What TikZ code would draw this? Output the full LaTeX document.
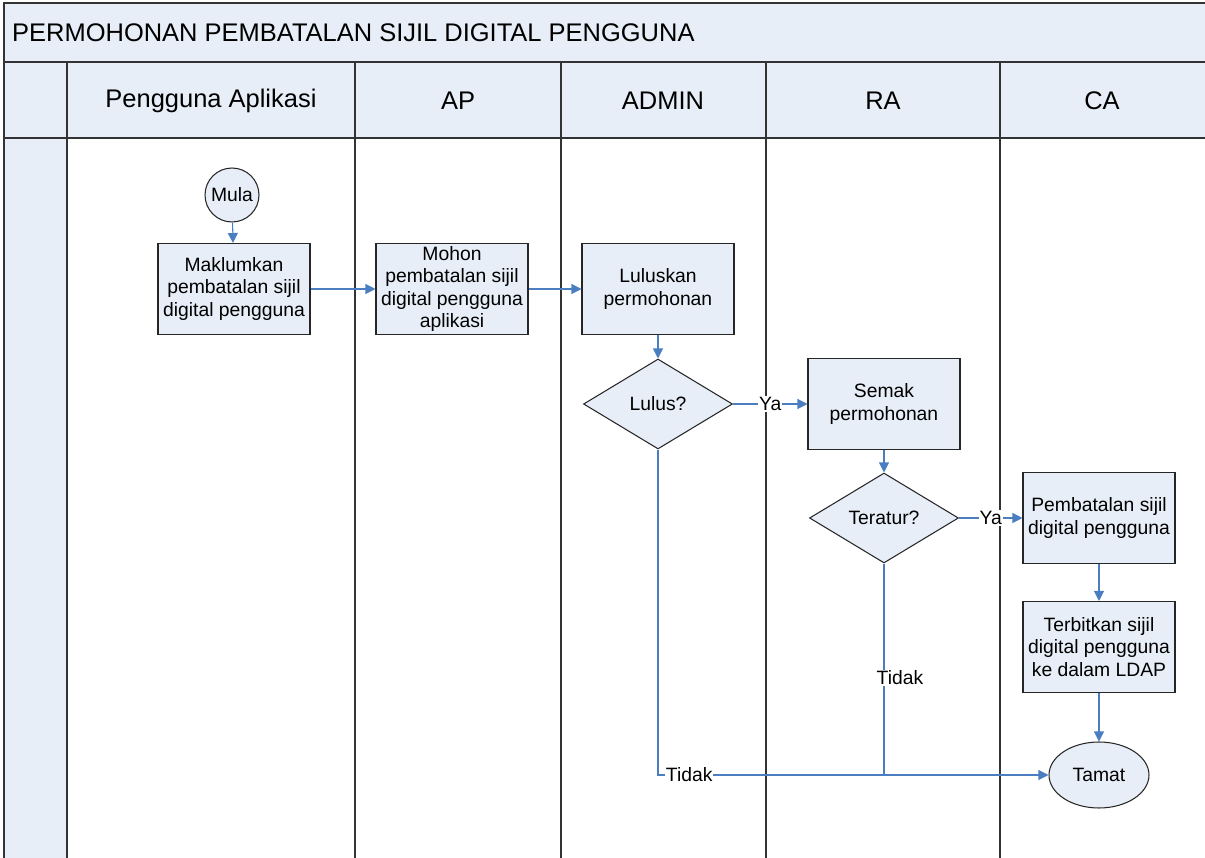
\documentclass[tikz,border=0pt]{standalone}
\usepackage{fontspec}
\setmainfont{Liberation Sans}
\usetikzlibrary{arrows.meta,shapes.geometric}
\definecolor{laneblue}{RGB}{232,238,247}
\definecolor{flowblue}{RGB}{74,126,193}
\tikzset{
  lane/.style={draw=black!80,line width=0.8pt},
  header/.style={font=\fontsize{14.5}{17}\selectfont},
  proses/.style={draw=black!85,fill=laneblue,line width=0.6pt,minimum width=3.04cm,minimum height=1.82cm,
    align=center,inner sep=1pt,font=\fontsize{11}{12.8}\selectfont},
  keputusan/.style={diamond,draw=black!85,fill=laneblue,line width=0.6pt,minimum width=2.98cm,minimum height=1.8cm,
    inner sep=0pt,font=\fontsize{11}{12.8}\selectfont},
  mula/.style={circle,draw=black!85,fill=laneblue,line width=0.6pt,minimum size=1.08cm,inner sep=0pt,
    font=\fontsize{11}{12.8}\selectfont},
  tamat/.style={ellipse,draw=black!85,fill=laneblue,line width=0.6pt,minimum width=2cm,minimum height=1.32cm,
    inner sep=0pt,font=\fontsize{11}{12.8}\selectfont},
  aliran/.style={draw=flowblue,line width=0.6pt,-{Triangle[length=0.2cm,width=0.2cm]}},
  label/.style={fill=white,inner sep=0.5pt,text=black,font=\fontsize{11}{12.8}\selectfont}
}
\begin{document}
\begin{tikzpicture}[x=0.02cm,y=-0.02cm]
\useasboundingbox (0,0) rectangle (1205,858);
\clip (0,0) rectangle (1205,858);
% tajuk dan lorong
\draw[lane,fill=laneblue] (4,3) rectangle (1215,62);
\draw[lane,fill=laneblue] (4,62) rectangle (1215,138);
\draw[lane,fill=laneblue] (4,138) rectangle (67,870);
\foreach \x in {67,355,561,766,1000} \draw[lane] (\x,62) -- (\x,870);
\node[header,anchor=west] (tajuk) at (6,33) {PERMOHONAN PEMBATALAN SIJIL DIGITAL PENGGUNA};
\node[header] (pengguna) at (211,101) {Pengguna Aplikasi};
\node[header] (ap) at (458,101) {AP};
\node[header] (admin) at (663,101) {ADMIN};
\node[header] (ra) at (883,101) {RA};
\node[header] (ca) at (1102,101) {CA};
% langkah
\node[mula] (mulanode) at (232,195) {Mula};
\node[proses] (maklum) at (234,289) {Maklumkan\\pembatalan sijil\\digital pengguna};
\node[proses] (mohon) at (452,289) {Mohon\\pembatalan sijil\\digital pengguna\\aplikasi};
\node[proses] (luluskan) at (658,289) {Luluskan\\permohonan};
\node[keputusan] (lulus) at (658,404) {Lulus?};
\node[proses] (semak) at (884,404) {Semak\\permohonan};
\node[keputusan] (teratur) at (884,518) {Teratur?};
\node[proses] (batal) at (1099,518) {Pembatalan sijil\\digital pengguna};
\node[proses] (terbit) at (1099,647) {Terbitkan sijil\\digital pengguna\\ke dalam LDAP};
\node[tamat] (tamatnode) at (1099,775) {Tamat};
% aliran
\draw[aliran] (mulanode) -- (maklum);
\draw[aliran] (maklum) -- (mohon);
\draw[aliran] (mohon) -- (luluskan);
\draw[aliran] (luluskan) -- (lulus);
\draw[aliran] (lulus) -- node[label]{Ya} (semak);
\draw[aliran] (semak) -- (teratur);
\draw[aliran] (teratur) -- node[label]{Ya} (batal);
\draw[aliran] (batal) -- (terbit);
\draw[aliran] (terbit) -- (tamatnode);
\draw[aliran] (lulus.south) |- node[label,pos=0.54]{Tidak} (tamatnode.west);
\draw[draw=flowblue,line width=0.6pt] (teratur.south) -- node[label,pos=0.54,xshift=0.32cm]{Tidak} (teratur.south |- tamatnode.west);
\end{tikzpicture}
\end{document}
